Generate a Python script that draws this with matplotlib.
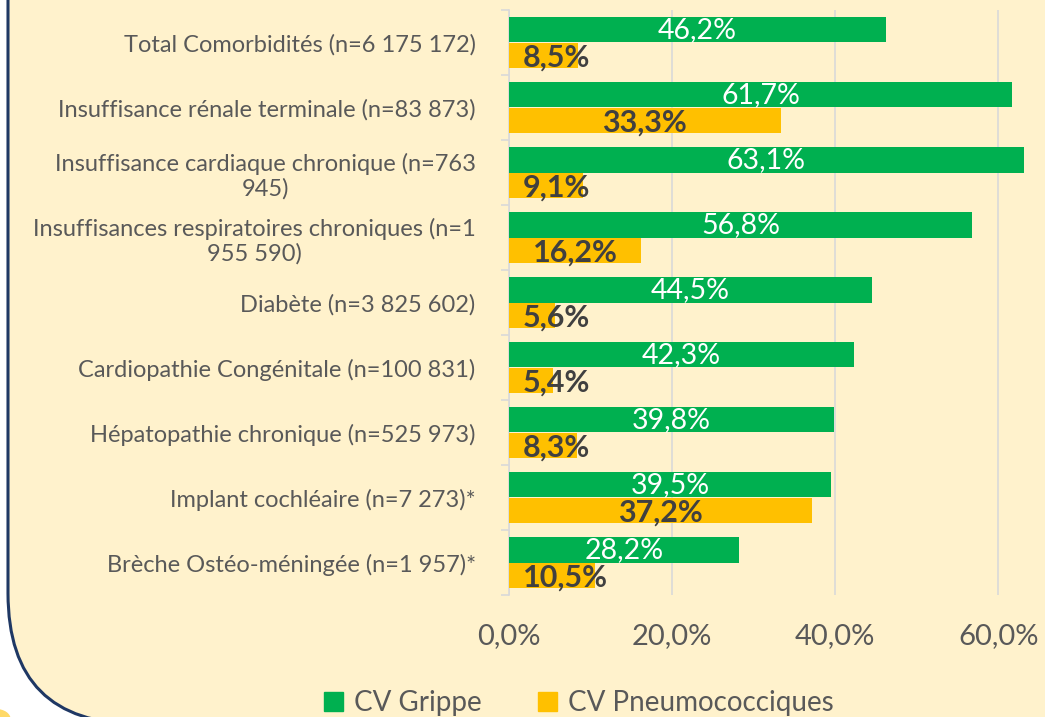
import matplotlib.pyplot as plt
from matplotlib.patches import FancyBboxPatch, Circle
import numpy as np

categories = [
    "Total Comorbidités (n=6 175 172)",
    "Insuffisance rénale terminale (n=83 873)",
    "Insuffisance cardiaque chronique (n=763\n945)",
    "Insuffisances respiratoires chroniques (n=1\n955 590)",
    "Diabète (n=3 825 602)",
    "Cardiopathie Congénitale (n=100 831)",
    "Hépatopathie chronique (n=525 973)",
    "Implant cochléaire (n=7 273)*",
    "Brèche Ostéo-méningée (n=1 957)*",
]
grippe = [46.2, 61.7, 63.1, 56.8, 44.5, 42.3, 39.8, 39.5, 28.2]
pneumo = [8.5, 33.3, 9.1, 16.2, 5.6, 5.4, 8.3, 37.2, 10.5]
xticks = [0, 20, 40, 60]
xtick_labels = ["0,0%", "20,0%", "40,0%", "60,0%"]

bg = "#FFF2CC"
green = "#00B050"
orange = "#FFC000"
text_gray = "#595959"
grid_col = "#D9D9D9"

plt.rcParams['font.family'] = ['Lato', 'DejaVu Sans']

fig = plt.figure(figsize=(10.45, 7.17), dpi=100)
fig.patch.set_facecolor("white")

# rounded background panel (goes past the top and right edges)
panel = FancyBboxPatch((8 / 1045, -7 / 717), 1.2, 1.2,
                       boxstyle="round,pad=0,rounding_size=0.125",
                       transform=fig.transFigure, facecolor=bg,
                       edgecolor="#1F3864", linewidth=2.2, zorder=-2,
                       mutation_aspect=1045 / 717)
fig.patches.append(panel)
blob = Circle((-4 / 1045, -2 / 717), 0.014, transform=fig.transFigure,
              facecolor="#FFD966", edgecolor="none", zorder=-1)
fig.patches.append(blob)

ax = fig.add_axes([509 / 1045, 1 - 595 / 717, (1045 - 509) / 1045 + 0.01, 585 / 717])
ax.set_facecolor("none")

y = np.arange(len(categories))
h = 0.39
gb = ax.barh(y - h / 2, grippe, height=h, color=green, zorder=3)
pb = ax.barh(y + h / 2, pneumo, height=h, color=orange, zorder=3)

ax.set_ylim(len(categories) - 0.5, -0.5)
ax.set_xlim(0, 67)

for rect, v in zip(gb, grippe):
    ax.text(v / 2, rect.get_y() + rect.get_height() / 2, f"{v:.1f}%".replace(".", ","),
            ha="center", va="center", color="white", fontsize=20.5, zorder=4)

# orange labels: centered, but never starting left of a small inner margin
fig.canvas.draw()
renderer = fig.canvas.get_renderer()
px_per_unit = ax.transData.transform((1, 0))[0] - ax.transData.transform((0, 0))[0]
margin = 14 / px_per_unit
for rect, v in zip(pb, pneumo):
    t = ax.text(v / 2, rect.get_y() + rect.get_height() / 2 + 0.03,
                f"{v:.1f}%".replace(".", ","), ha="center", va="center",
                color="#404040", fontsize=22, fontweight="bold", zorder=4)
    half = t.get_window_extent(renderer).width / 2 / px_per_unit
    if v / 2 - half < margin:
        t.set_x(margin + half)

ax.set_yticks(y)
ax.set_yticklabels(categories, fontsize=17, color=text_gray, multialignment="center")
ax.tick_params(axis="y", which="major", length=0, pad=24)
ax.set_yticks(np.arange(-0.5, len(categories) + 0.5, 1), minor=True)
ax.tick_params(axis="y", which="minor", length=6, color=grid_col, width=1.2)

ax.set_xticks(xticks)
ax.set_xticklabels(xtick_labels, fontsize=21, color=text_gray)
ax.tick_params(axis="x", length=0, pad=20)
ax.grid(axis="x", color=grid_col, linewidth=1.2, zorder=0)

for s in ["top", "right", "bottom"]:
    ax.spines[s].set_visible(False)
ax.spines["left"].set_color(grid_col)
ax.spines["left"].set_linewidth(1.2)

handles = [plt.Rectangle((0, 0), 1, 1, color=green), plt.Rectangle((0, 0), 1, 1, color=orange)]
fig.legend(handles, ["CV Grippe", "CV Pneumococciques"], loc="center",
           bbox_to_anchor=(579 / 1045, 1 - 703 / 717), ncol=2, frameon=False,
           fontsize=20, labelcolor=text_gray, handlelength=0.7, handleheight=0.7,
           handletextpad=0.4, columnspacing=2.0)

fig.savefig("out.png", dpi=100, facecolor=fig.get_facecolor())
